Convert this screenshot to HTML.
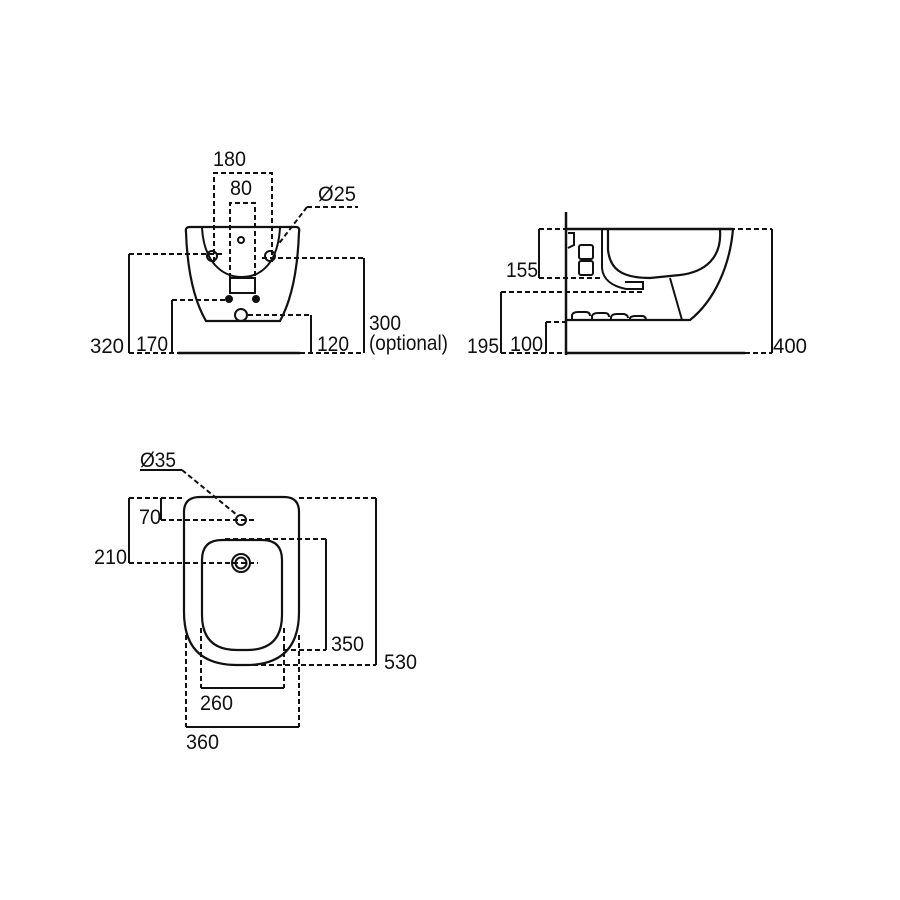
<!DOCTYPE html>
<html><head><meta charset="utf-8"><style>
html,body{margin:0;padding:0;background:#fff;}
svg{display:block}
text{font-family:"Liberation Sans",sans-serif;font-size:21px;fill:#111;}
</style></head><body>
<svg width="900" height="900" viewBox="0 0 900 900" xmlns="http://www.w3.org/2000/svg">
<rect width="900" height="900" fill="#fff"/>
<g fill="none" stroke="#111" stroke-width="2">
<!-- FRONT VIEW -->
<g stroke-dasharray="5,3">
<path d="M214,262 V173 H272 V262"/>
<path d="M230,278 V203 H255 V278"/>
<path d="M129,254 H222"/>
<path d="M262,258 H364"/>
<path d="M172,300 H229"/>
<path d="M248,315 H311"/>
<path d="M129,353 H178 M300,353 H364"/>
<path d="M307,207 H358"/>
<path d="M307,207 L277,246"/>
</g>
<path d="M129,254 V353"/>
<path d="M364,258 V353"/>
<path d="M172,300 V353"/>
<path d="M311,315 V353"/>
<path d="M178,353 H300" stroke-width="2.5"/>
<path d="M190,227 H296 Q300,227 299,232 Q297,290 280,321 H206 Q188,290 186,232 Q185,227 190,227 Z" stroke-width="2.2"/>
<path d="M202,228 C204,262 222,277 242,277 C262,277 278,262 280,228"/>
<path d="M230,278 H255 V293 H230 Z"/>
<circle cx="212" cy="256" r="5"/><circle cx="270" cy="256" r="5"/>
<circle cx="241" cy="240" r="3"/>
<circle cx="241" cy="315" r="6"/>
<circle cx="229" cy="299" r="3" fill="#111"/><circle cx="256" cy="299" r="3" fill="#111"/>

<!-- SIDE VIEW -->
<g stroke-dasharray="5,3">
<path d="M539,229 H566 M730,229 H772"/>
<path d="M539,278 H602"/>
<path d="M501,292 H643"/>
<path d="M546,322 H566"/>
<path d="M501,353 H566 M745,353 H772"/>
</g>
<path d="M772,229 V353"/>
<path d="M539,229 V278"/>
<path d="M501,292 V353"/>
<path d="M546,322 V353"/>
<path d="M566,212 V355" stroke-width="2.5"/>
<path d="M566,353 H745" stroke-width="2.5"/>
<path d="M566,229 H733" stroke-width="2.5"/>
<path d="M733,229 C730,265 715,300 690,320 H566" stroke-width="2.2"/>
<path d="M720,230 C722,258 705,272 680,275 L650,278 C620,278 610,268 608,250 V230" stroke-width="2.2"/>
<path d="M602,230 V268 C603,280 612,286 626,289 H643 V282 H625"/>
<path d="M670,278 L682,320"/>
<rect x="579" y="245" width="14" height="14" rx="2"/>
<rect x="579" y="261" width="14" height="14" rx="2"/>
<path d="M568,233 H574 V245 L568,248"/>
<path d="M572,320 V315 Q573,312 578,312 H586 Q590,312 590,316 M592,320 V316 Q593,313 598,313 H605 Q609,313 609,317 M611,320 V317 Q612,314 617,314 H624 Q628,315 628,318 M630,320 V318 Q631,316 636,316 H643 Q646,317 646,320"/>

<!-- PLAN VIEW -->
<g stroke-dasharray="5,3">
<path d="M129,498 H185 M299,498 H376"/>
<path d="M245,665 H376"/>
<path d="M129,563 H258"/>
<path d="M161,520 H256"/>
<path d="M225,539 H326"/>
<path d="M283,650 H326"/>
<path d="M201,628 V688 M284,628 V688"/>
<path d="M186,635 V727 M299,635 V727"/>
<path d="M182,470 L237,515"/>
</g>
<path d="M376,498 V665"/>
<path d="M129,498 V563"/>
<path d="M161,498 V520"/>
<path d="M326,539 V650"/>
<path d="M201,688 H284"/>
<path d="M186,727 H299"/>
<path d="M140,470 H182"/>
<path d="M200,497 H284 Q299,497 299,512 V612 Q299,665 246,665 H237 Q184,665 184,612 V512 Q184,497 200,497 Z" stroke-width="2.2"/>
<path d="M222,540 H262 Q282,540 282,560 V615 Q282,650 247,650 H237 Q202,650 202,615 V560 Q202,540 222,540 Z" stroke-width="2.2"/>
<circle cx="241" cy="520" r="5"/>
<circle cx="241" cy="563" r="9"/><circle cx="241" cy="563" r="5.5"/>
</g>
<!-- labels -->
<text x="213" y="166" textLength="33" lengthAdjust="spacingAndGlyphs">180</text>
<text x="230" y="195" textLength="22" lengthAdjust="spacingAndGlyphs">80</text>
<text x="318" y="201" textLength="38" lengthAdjust="spacingAndGlyphs">Ø25</text>
<text x="90" y="353" textLength="34" lengthAdjust="spacingAndGlyphs">320</text>
<text x="136" y="351" textLength="32" lengthAdjust="spacingAndGlyphs">170</text>
<text x="317" y="351" textLength="32" lengthAdjust="spacingAndGlyphs">120</text>
<text x="369" y="330" textLength="32" lengthAdjust="spacingAndGlyphs">300</text>
<text x="369" y="350" textLength="79" lengthAdjust="spacingAndGlyphs">(optional)</text>
<text x="506" y="277" textLength="32" lengthAdjust="spacingAndGlyphs">155</text>
<text x="467" y="353" textLength="32" lengthAdjust="spacingAndGlyphs">195</text>
<text x="510" y="351" textLength="33" lengthAdjust="spacingAndGlyphs">100</text>
<text x="773" y="353" textLength="34" lengthAdjust="spacingAndGlyphs">400</text>
<text x="140" y="467" textLength="36" lengthAdjust="spacingAndGlyphs">Ø35</text>
<text x="139" y="524" textLength="22" lengthAdjust="spacingAndGlyphs">70</text>
<text x="94" y="564" textLength="33" lengthAdjust="spacingAndGlyphs">210</text>
<text x="331" y="651" textLength="33" lengthAdjust="spacingAndGlyphs">350</text>
<text x="384" y="669" textLength="33" lengthAdjust="spacingAndGlyphs">530</text>
<text x="200" y="710" textLength="33" lengthAdjust="spacingAndGlyphs">260</text>
<text x="186" y="749" textLength="33" lengthAdjust="spacingAndGlyphs">360</text>
</svg>
</body></html>
